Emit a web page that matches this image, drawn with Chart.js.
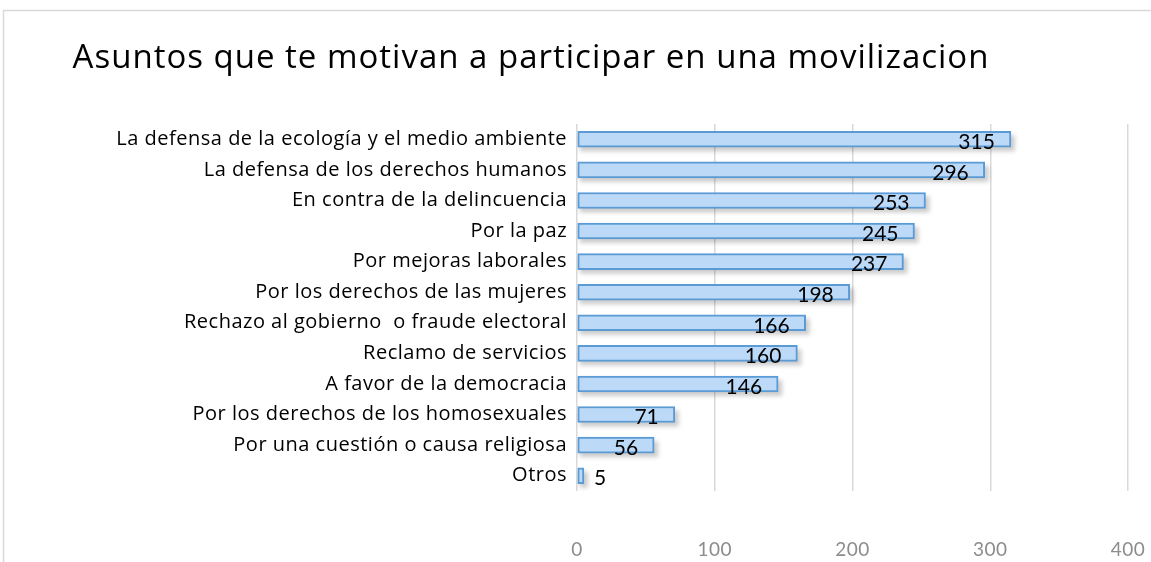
<!DOCTYPE html>
<html>
<head>
<meta charset="utf-8">
<script src="https://cdn.jsdelivr.net/npm/chart.js@4.4.1/dist/chart.umd.min.js"></script>
<style>
  html, body { margin: 0; padding: 0; background: #fff; }
  #wrap { width: 1151px; height: 562px; }
</style>
</head>
<body>
<div id="wrap"><canvas id="bars"></canvas></div>
<script>
const titleText = 'Asuntos que te motivan a participar en una movilizacion';
const categories = [
  'La defensa de la ecología y el medio ambiente',
  'La defensa de los derechos humanos',
  'En contra de la delincuencia',
  'Por la paz',
  'Por mejoras laborales',
  'Por los derechos de las mujeres',
  'Rechazo al gobierno  o fraude electoral',
  'Reclamo de servicios',
  'A favor de la democracia',
  'Por los derechos de los homosexuales',
  'Por una cuestión o causa religiosa',
  'Otros'
];
const counts = [315, 296, 253, 245, 237, 198, 166, 160, 146, 71, 56, 5];
const xTicks = [0, 100, 200, 300, 400];

const FONT = '"Open Sans", sans-serif';
const NUM_FONT = 'Lato, sans-serif';

document.addEventListener('DOMContentLoaded', () => {
    const canvas = document.getElementById('bars');
    const ctx = canvas.getContext('2d');

    const barFill = (context) => {
        const chart = context.chart;
        const el = context.element;
        if (!el || el.y === undefined) return '#bcdaf8';
        const h = el.height || 16;
        const g = chart.ctx.createLinearGradient(0, el.y - h / 2, 0, el.y + h / 2);
        g.addColorStop(0, '#dcecfd');
        g.addColorStop(0.5, '#c4defa');
        g.addColorStop(1, '#9cc8f4');
        return g;
    };

    new Chart(ctx, {
        type: 'bar',
        data: {
            labels: categories,
            datasets: [{
                data: counts,
                backgroundColor: barFill,
                borderColor: '#5b9bd5',
                borderWidth: 2,
                borderSkipped: false,
                barThickness: 16,
            }]
        },
        options: {
            indexAxis: 'y',
            responsive: true,
            maintainAspectRatio: false,
            animation: false,
            layout: {
                padding: { top: 124, right: 23, bottom: 0, left: 0 }
            },
            scales: {
                x: {
                    min: 0,
                    max: 400,
                    afterBuildTicks: (scale) => {
                        scale.ticks = xTicks.map(v => ({ value: v }));
                    },
                    grid: {
                        color: '#d9d9d9',
                        lineWidth: 1.5,
                        drawTicks: false,
                    },
                    border: { display: false },
                    ticks: {
                        color: '#8c8c8c',
                        font: { family: NUM_FONT, size: 19 },
                        padding: 47,
                    },
                    afterFit: (scale) => {
                        scale.height = 71;
                        // tick padding would otherwise eat into the right side
                        scale.paddingLeft = 0;
                        scale.paddingRight = 0;
                    }
                },
                y: {
                    grid: { display: false, drawTicks: false },
                    border: { display: false },
                    ticks: {
                        color: '#000',
                        font: { family: FONT, size: 20 },
                        padding: 10,
                        autoSkip: false,
                    },
                    afterFit: (scale) => { scale.width = 577; }
                }
            },
            plugins: {
                legend: { display: false },
                tooltip: { enabled: false },
            }
        },
        plugins: [
            {
                id: 'frameAndTitle',
                beforeDraw: (chart) => {
                    const c = chart.ctx;
                    c.save();
                    c.strokeStyle = '#d9d9d9';
                    c.lineWidth = 1.5;
                    c.beginPath();
                    c.moveTo(3.5, 600);
                    c.lineTo(3.5, 10.5);
                    c.lineTo(1160, 10.5);
                    c.stroke();
                    c.fillStyle = '#000';
                    c.font = '33px ' + FONT;
                    c.letterSpacing = '1px';
                    c.textAlign = 'center';
                    c.textBaseline = 'middle';
                    c.fillText(titleText, 531, 59);
                    c.restore();
                    // widen the category labels a little (Calibri look)
                    c.letterSpacing = '0.5px';
                }
            },
            {
                id: 'barShadow',
                beforeDatasetsDraw: (chart) => {
                    const c = chart.ctx;
                    const meta = chart.getDatasetMeta(0);
                    c.save();
                    meta.data.forEach((bar) => {
                        const top = bar.y - bar.height / 2;
                        c.fillStyle = 'rgba(0,0,0,0.2)';
                        c.filter = 'blur(2px)';
                        c.fillRect(bar.base + 2, top + 4, bar.x - bar.base + 2, bar.height);
                    });
                    c.restore();
                }
            },
            {
                id: 'valueLabels',
                afterDatasetsDraw: (chart) => {
                    const c = chart.ctx;
                    const meta = chart.getDatasetMeta(0);
                    c.save();
                    c.letterSpacing = '0px';
                    c.fillStyle = '#000';
                    c.font = '21px ' + NUM_FONT;
                    c.textBaseline = 'middle';
                    meta.data.forEach((bar, i) => {
                        const v = chart.data.datasets[0].data[i];
                        const txt = String(v);
                        if (bar.x - bar.base > 40) {
                            c.textAlign = 'right';
                            c.fillText(txt, bar.x - 16, bar.y + 3);
                        } else {
                            c.textAlign = 'left';
                            c.fillText(txt, bar.x + 10, bar.y + 3);
                        }
                    });
                    c.restore();
                }
            }
        ]
    });
});
</script>
</body>
</html>
